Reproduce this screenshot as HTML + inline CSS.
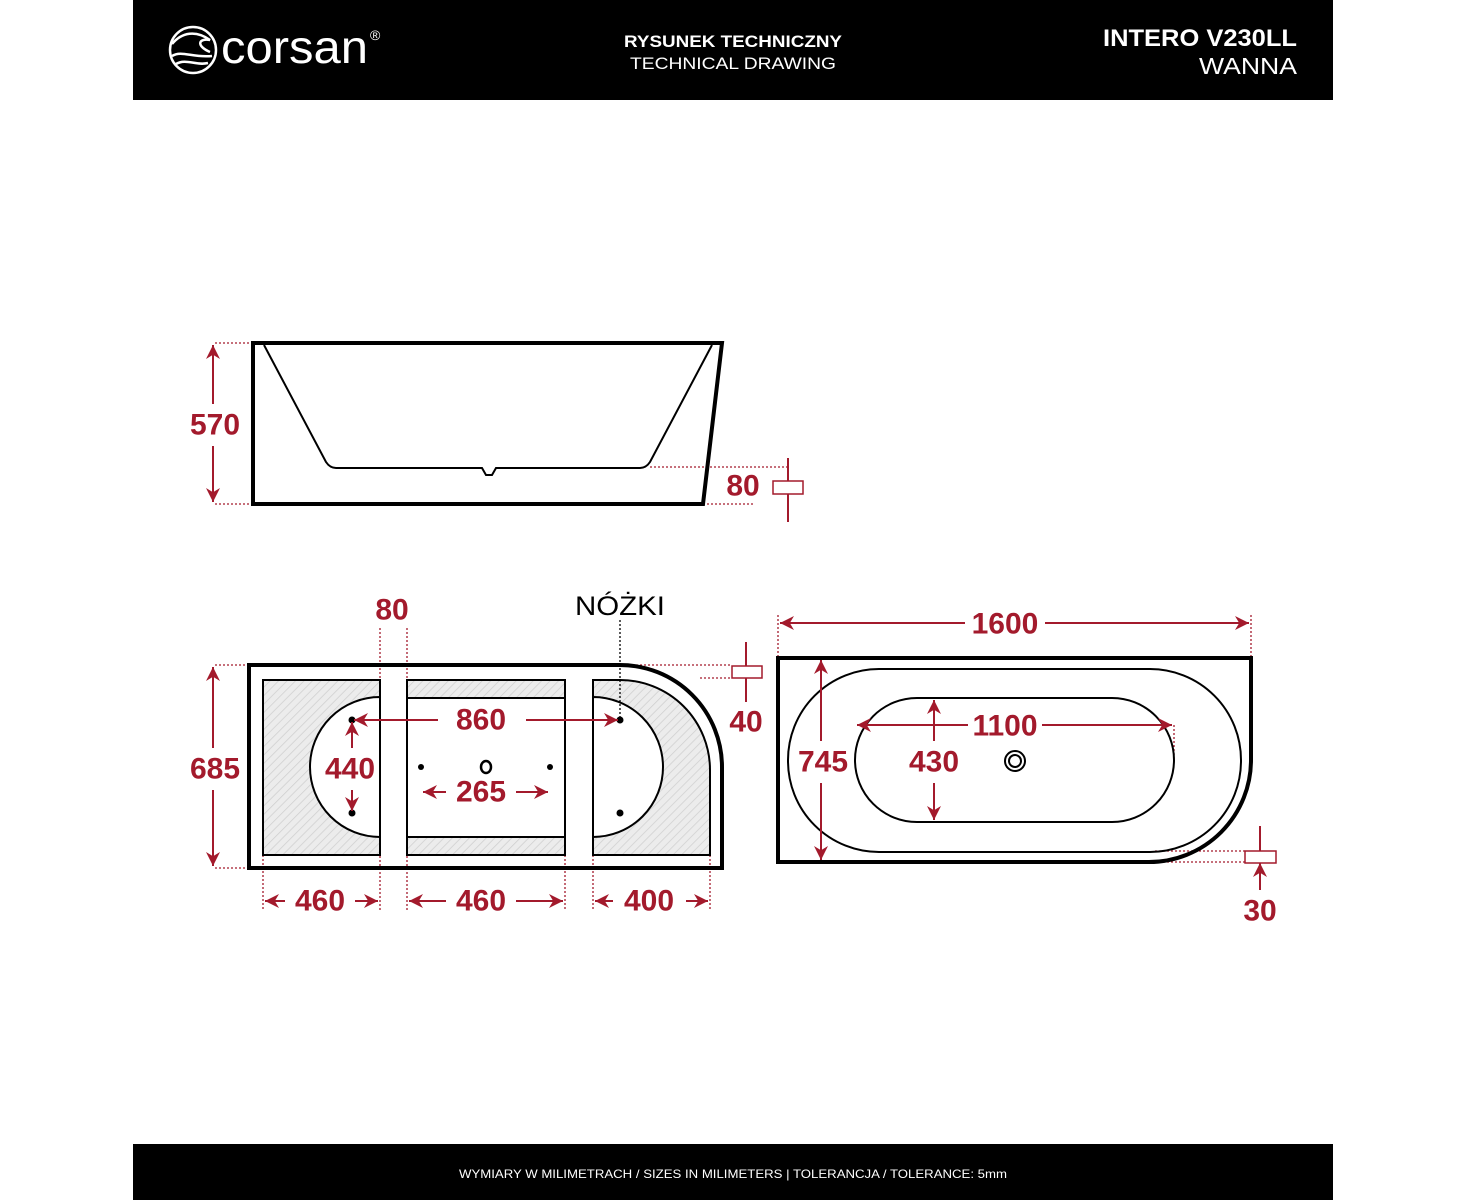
<!DOCTYPE html>
<html><head><meta charset="utf-8"><style>
html,body{margin:0;padding:0;background:#fff;}
svg{display:block;}
text{font-family:"Liberation Sans",sans-serif;}
.r{fill:#a31a2c;font-weight:bold;font-size:30px;text-anchor:middle;dominant-baseline:central;}
</style></head><body>
<svg width="1467" height="1200" viewBox="0 0 1467 1200" xmlns="http://www.w3.org/2000/svg">
<defs>
<pattern id="h" width="6" height="6" patternUnits="userSpaceOnUse" patternTransform="rotate(45)">
<rect width="6" height="6" fill="#ececec"/><line x1="0" y1="0" x2="0" y2="6" stroke="#cfcfcf" stroke-width="1.5"/>
</pattern>
<marker id="a" viewBox="0 0 10 10" refX="10" refY="5" markerWidth="7" markerHeight="7" orient="auto-start-reverse"><path d="M0,0 L10,5 L0,10 L3,5 z" fill="#a31a2c"/></marker>
</defs>
<rect x="133" y="0" width="1200" height="100" fill="#000"/>
<circle cx="193" cy="50" r="23" fill="none" stroke="#fff" stroke-width="2.5"/>
<path d="M172,44 C182,32 196,30 210,40 C198,38 196,46 210,52 M172,56 C182,50 192,58 212,56 M176,64 C186,58 196,66 208,63" fill="none" stroke="#fff" stroke-width="2.5"/>
<text x="221" y="63" fill="#fff" font-size="46" textLength="147" lengthAdjust="spacingAndGlyphs">corsan</text>
<text x="370" y="40" fill="#fff" font-size="14">®</text>
<text x="733" y="47" fill="#fff" font-size="17" font-weight="bold" text-anchor="middle" textLength="218" lengthAdjust="spacingAndGlyphs">RYSUNEK TECHNICZNY</text>
<text x="733" y="69" fill="#fff" font-size="17" text-anchor="middle" textLength="206" lengthAdjust="spacingAndGlyphs">TECHNICAL DRAWING</text>
<text x="1297" y="46" fill="#fff" font-size="24" font-weight="bold" text-anchor="end" textLength="194" lengthAdjust="spacingAndGlyphs">INTERO V230LL</text>
<text x="1297" y="74" fill="#fff" font-size="23" text-anchor="end" textLength="98" lengthAdjust="spacingAndGlyphs">WANNA</text>
<rect x="133" y="1144" width="1200" height="56" fill="#000"/>
<text x="733" y="1178" fill="#fff" font-size="12" text-anchor="middle" textLength="548" lengthAdjust="spacingAndGlyphs">WYMIARY W MILIMETRACH / SIZES IN MILIMETERS     |     TOLERANCJA / TOLERANCE: 5mm</text>

<g fill="none" stroke="#a31a2c" stroke-width="1.3" stroke-dasharray="2,2">
<path d="M215,343H253 M215,504H253 M650,467H790 M703,504H755"/>
<path d="M215,665H249 M215,868H249 M380,628V910 M407,628V910 M263,855V910 M565,855V910 M593,855V910 M710,855V910 M620,665H732 M700,678H732 M421,767V792 M550,767V792"/>
<path d="M778,615V658 M1251,615V658 M1155,851H1245 M1155,862H1245 M1174,725V760"/>
</g>
<path d="M253,343H722L703,504H253Z" fill="none" stroke="#000" stroke-width="4"/>
<path d="M264,345L326,462Q330,468 336,468H482L486,475H492L496,468H640Q646,468 650,462L712,345" fill="none" stroke="#000" stroke-width="2"/>
<path d="M249,665H620A102,102 0 0 1 722,767V868H249Z" fill="none" stroke="#000" stroke-width="4"/>
<rect x="263" y="680" width="117" height="175" fill="url(#h)" stroke="#000" stroke-width="2"/>
<path d="M380,697A70,70 0 0 0 380,837Z" fill="#fff" stroke="#000" stroke-width="2"/>
<rect x="407" y="680" width="158" height="175" fill="url(#h)" stroke="#000" stroke-width="2"/>
<rect x="407" y="698" width="158" height="139" fill="#fff" stroke="#000" stroke-width="2"/>
<path d="M593,680H620A90,90 0 0 1 710,770V855H593Z" fill="url(#h)" stroke="#000" stroke-width="2"/>
<path d="M593,697A70,70 0 0 1 593,837Z" fill="#fff" stroke="#000" stroke-width="2"/>
<g fill="#000"><circle cx="352" cy="720" r="3.5"/><circle cx="352" cy="813" r="3.5"/><circle cx="421" cy="767" r="3"/><circle cx="550" cy="767" r="3"/><circle cx="620" cy="720" r="3.5"/><circle cx="620" cy="813" r="3.5"/></g>
<ellipse cx="486" cy="767" rx="5" ry="6" fill="none" stroke="#000" stroke-width="2.5"/>
<path d="M620,620V718" stroke="#000" stroke-width="1.3" stroke-dasharray="2,2"/>
<text x="620" y="606" font-size="27" text-anchor="middle" dominant-baseline="central" fill="#000" textLength="90" lengthAdjust="spacingAndGlyphs">NÓŻKI</text>
<path d="M778,658H1251V760A102,102 0 0 1 1149,862H778Z" fill="none" stroke="#000" stroke-width="4"/>
<rect x="788" y="669" width="453" height="183" rx="91" fill="none" stroke="#000" stroke-width="2"/>
<rect x="855" y="698" width="319" height="124" rx="62" fill="none" stroke="#000" stroke-width="2"/>
<circle cx="1015" cy="761" r="10" fill="none" stroke="#000" stroke-width="2"/><circle cx="1015" cy="761" r="6" fill="none" stroke="#000" stroke-width="2"/>

<g stroke="#a31a2c" stroke-width="2" fill="none" marker-start="url(#a)" marker-end="url(#a)">
<path d="M213,345V404 M213,446V502"/>
<path d="M213,667V748 M213,790V866"/>
<path d="M354,720H438 M526,720H618"/>
<path d="M352,722V748 M352,790V811"/>
<path d="M423,792H446 M516,792H548"/>
<path d="M265,901H285 M355,901H378"/>
<path d="M409,901H446 M516,901H563"/>
<path d="M595,901H613 M686,901H708"/>
<path d="M780,623H965 M1045,623H1249"/>
<path d="M821,660V741 M821,783V860"/>
<path d="M857,725H968 M1042,725H1172"/>
<path d="M934,700V741 M934,783V820"/>
</g>
<g stroke="#a31a2c" stroke-width="2" fill="none" marker-end="url(#a)">
<path d="M788,458V481 M788,522V494 M746,642V666 M746,702V678 M1260,826V851 M1260,890V863"/>
</g>
<g fill="none" stroke="#a31a2c" stroke-width="1.5">
<rect x="773" y="481" width="30" height="13"/><rect x="732" y="666" width="30" height="12"/><rect x="1245" y="851" width="31" height="12"/>
</g>
<g>
<text class="r" x="215" y="425">570</text>
<text class="r" x="743" y="486">80</text>
<text class="r" x="392" y="610">80</text>
<text class="r" x="746" y="722">40</text>
<text class="r" x="215" y="769">685</text>
<text class="r" x="481" y="720">860</text>
<text class="r" x="350" y="769">440</text>
<text class="r" x="481" y="792">265</text>
<text class="r" x="320" y="901">460</text>
<text class="r" x="481" y="901">460</text>
<text class="r" x="649" y="901">400</text>
<text class="r" x="1005" y="624">1600</text>
<text class="r" x="823" y="762">745</text>
<text class="r" x="1005" y="726">1100</text>
<text class="r" x="934" y="762">430</text>
<text class="r" x="1260" y="911">30</text>
</g>
</svg>
</body></html>
